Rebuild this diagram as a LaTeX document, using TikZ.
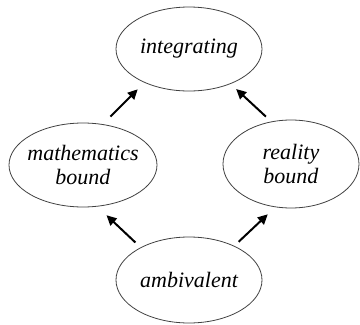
\documentclass[tikz,border=0pt]{standalone}
\usepackage{fontspec}
\setmainfont{Liberation Serif}
\usetikzlibrary{arrows.meta, shapes.geometric}

\begin{document}
\begin{tikzpicture}[x=1pt, y=-1pt,
    stage/.style={draw=black!75, line width=0.8pt, ellipse, inner sep=-4pt, align=center,
        font=\fontsize{22}{24}\selectfont\itshape},
    arrow/.style={-{Triangle[length=10pt, width=9.5pt]}, line width=2pt},
]
\useasboundingbox (0,0) rectangle (360,325);

\node[stage, minimum width=146pt, minimum height=84pt] (integ) at (189,49) {integrating};
\node[stage, minimum width=148pt, minimum height=84pt] (math) at (83,165) {mathematics\\bound};
\node[stage, minimum width=136pt, minimum height=88pt] (real) at (291,164) {reality\\bound};
\node[stage, minimum width=146pt, minimum height=86pt] (ambi) at (189,280) {ambivalent};

\draw[arrow, shorten <=7.2pt, shorten >=12.6pt] (ambi.146.7) -- (math.-71.3);
\draw[arrow, shorten <=5.9pt, shorten >=10.3pt] (ambi.37.1) -- (real.-110);
\draw[arrow, shorten <=10.6pt, shorten >=9.4pt] (math.64.3) -- (integ.-143.1);
\draw[arrow, shorten <=7.2pt, shorten >=7.5pt] (real.115.1) -- (integ.-40.7);

\end{tikzpicture}
\end{document}
